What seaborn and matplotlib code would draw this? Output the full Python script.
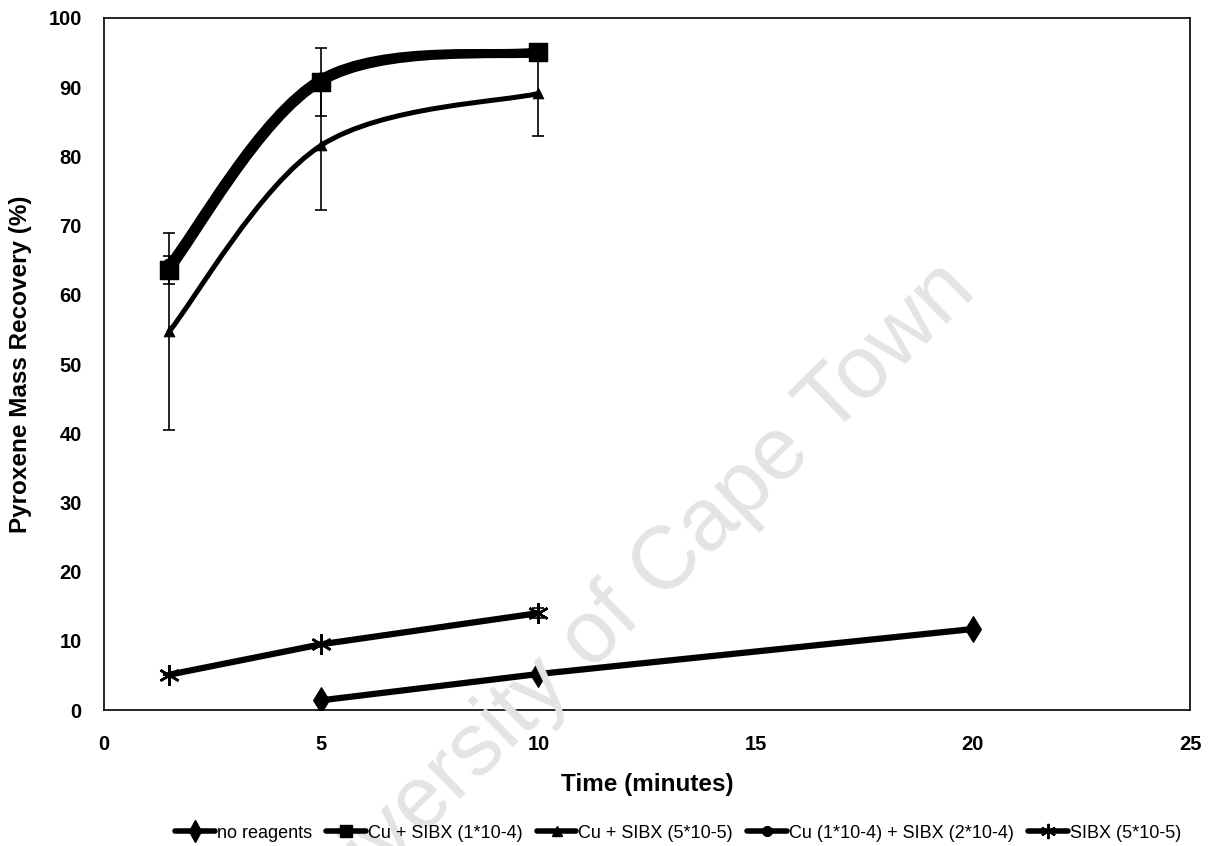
import numpy as np
import pandas as pd
import matplotlib
matplotlib.use("Agg")
import matplotlib.pyplot as plt
from matplotlib.path import Path
from matplotlib.patches import PathPatch
from matplotlib.lines import Line2D
import seaborn as sns

# ---- data ----
series_names = ["no reagents", "Cu + SIBX (1*10-4)", "Cu + SIBX (5*10-5)",
                "Cu (1*10-4) + SIBX (2*10-4)", "SIBX (5*10-5)"]
t_none = [5, 10, 20]
y_none = [1.4, 5.2, 11.7]
t_cu1 = [1.5, 5, 10]
y_cu1 = [63.6, 90.8, 95.1]
e_cu1 = [2.0, 4.9, 0.5]
t_cu5 = [1.5, 5, 10]
y_cu5 = [54.7, 81.6, 89.1]
e_cu5 = [14.2, 9.4, 6.2]
t_cusibx = [1.5, 5, 10]
y_cusibx = [64.3, 91.2, 95.0]
t_sibx = [1.5, 5, 10]
y_sibx = [5.1, 9.5, 14.0]
e_sibx = [0.0, 0.0, 0.7]
x_ticks = [0, 5, 10, 15, 20, 25]
y_ticks = list(range(0, 101, 10))

sns.set_theme(style="white")
plt.rcParams['font.family'] = ['Liberation Sans', 'DejaVu Sans']
for k in ["text.color", "axes.labelcolor", "xtick.color", "ytick.color"]:
    plt.rcParams[k] = "black"

fig = plt.figure(figsize=(12.17, 8.46), dpi=100)
ax = fig.add_axes([104/1217, 1 - 710/846, (1190-104)/1217, (710-18)/846])

# watermark
fig.text(0.509, 0.278, "University of Cape Town", fontsize=64, color="#e4e4e4",
         rotation=44.3, rotation_mode="anchor", ha="center", va="center", zorder=0)
ax.patch.set_alpha(0)


def smooth_path(xs, ys):
    pts = np.column_stack([xs, ys])
    n = len(pts)
    verts = [pts[0]]
    codes = [Path.MOVETO]
    for i in range(n - 1):
        p0 = pts[i - 1] if i > 0 else pts[i]
        p1 = pts[i]
        p2 = pts[i + 1]
        p3 = pts[i + 2] if i + 2 < n else pts[i + 1]
        c1 = p1 + (p2 - p0) / 6.0
        c2 = p2 - (p3 - p1) / 6.0
        verts += [c1, c2, p2]
        codes += [Path.CURVE4] * 3
    return Path(verts, codes)


# error bars
for xs, ys, es in [(t_cu5, y_cu5, e_cu5), (t_cu1, y_cu1, e_cu1), (t_sibx, y_sibx, e_sibx)]:
    ax.errorbar(xs, ys, yerr=es, fmt="none", ecolor="black", elinewidth=1.2,
                capsize=4.5, capthick=1.2, zorder=2)

# smoothed curves
for xs, ys, lw in [(t_cu5, y_cu5, 3.6), (t_cusibx, y_cusibx, 6.5), (t_cu1, y_cu1, 6.5)]:
    ax.add_patch(PathPatch(smooth_path(xs, ys), fill=False, edgecolor="black",
                           lw=lw, capstyle="round", joinstyle="round", zorder=3))

# straight series
df_none = pd.DataFrame({"t": t_none, "y": y_none})
df_sibx = pd.DataFrame({"t": t_sibx, "y": y_sibx})
sns.lineplot(data=df_none, x="t", y="y", ax=ax, color="black", lw=4.5,
             marker="d", markersize=13, markeredgecolor="black", zorder=4)
sns.lineplot(data=df_sibx, x="t", y="y", ax=ax, color="black", lw=4.5,
             marker=(6, 2, 0), markersize=15, markeredgewidth=1.8,
             markeredgecolor="black", zorder=4)

# markers for smoothed series
sns.scatterplot(x=t_cu5, y=y_cu5, ax=ax, color="black", marker="^", s=60, zorder=5,
                edgecolor="black")
sns.scatterplot(x=t_cusibx, y=y_cusibx, ax=ax, color="black", marker="o", s=90, zorder=5,
                edgecolor="black")
sns.scatterplot(x=t_cu1, y=y_cu1, ax=ax, color="black", marker="s", s=170, zorder=6,
                edgecolor="black")

ax.set_xlim(0, 25)
ax.set_ylim(0, 100)
ax.set_xticks(x_ticks)
ax.set_yticks(y_ticks)
ax.set_xticklabels([str(v) for v in x_ticks], fontsize=14.5, fontweight="bold")
ax.set_yticklabels([str(v) for v in y_ticks], fontsize=14.5, fontweight="bold")
ax.tick_params(axis="both", direction="out", length=0, width=1, color="black")
ax.tick_params(axis="x", pad=18)
ax.tick_params(axis="y", pad=16)
for sp in ax.spines.values():
    sp.set_color("black")
    sp.set_linewidth(1.2)
ax.set_xlabel("Time (minutes)", fontsize=17.5, fontweight="bold", labelpad=14)
ax.set_ylabel("Pyroxene Mass Recovery (%)", fontsize=17.5, fontweight="bold", labelpad=12)

handles = [
    Line2D([], [], color="black", lw=4, marker="d", markersize=11),
    Line2D([], [], color="black", lw=4, marker="s", markersize=9),
    Line2D([], [], color="black", lw=4, marker="^", markersize=7),
    Line2D([], [], color="black", lw=4, marker="o", markersize=7),
    Line2D([], [], color="black", lw=4, marker=(6, 2, 0), markersize=11, markeredgewidth=1.4),
]
leg = fig.legend(handles, series_names, loc="center", bbox_to_anchor=(678/1217, 1 - 833/846),
                 ncol=5, frameon=False, fontsize=13, handlelength=2.2, handletextpad=0.1,
                 columnspacing=0.8)
for txt in leg.get_texts():
    txt.set_family(["Liberation Sans Narrow", "Liberation Sans", "DejaVu Sans"])

fig.savefig("out.png", dpi=100)
